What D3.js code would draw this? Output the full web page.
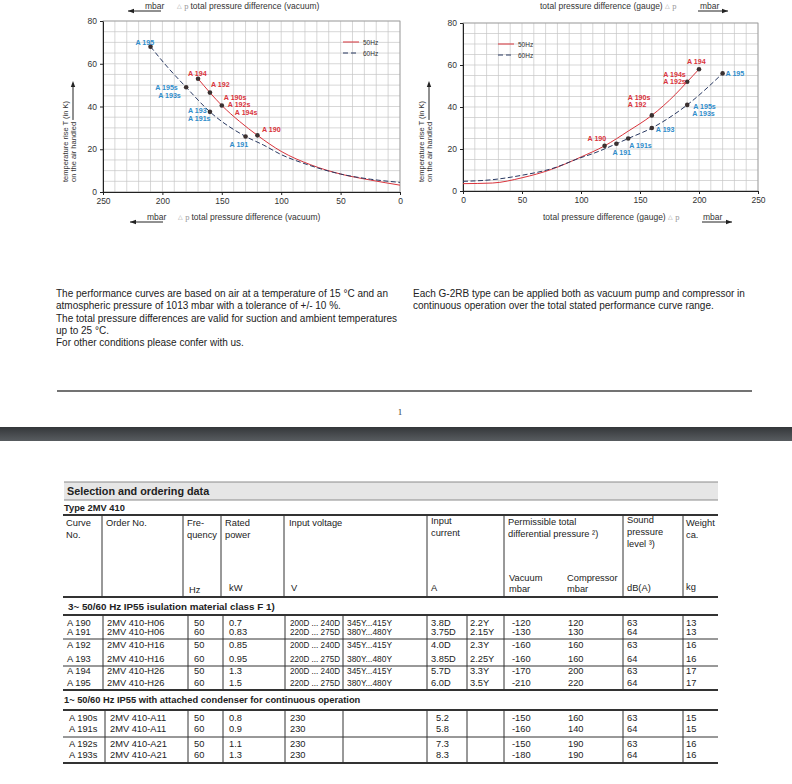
<!DOCTYPE html>
<html>
<head>
<meta charset="utf-8">
<script src="https://cdn.jsdelivr.net/npm/d3@7"></script>
<style>
  body { margin: 0; background: #fff; }
  svg { display: block; font-family: "Liberation Sans", Arial, sans-serif; }
</style>
</head>
<body>
<div id="page"></div>
<script>
// ---- chart data (pressure difference in mbar, temperature rise in K) ----
const vacuumCurve50 = [[170, 53], [160, 46.5], [150, 40.5], [135, 33], [120, 26.5], [100, 19], [75, 12.7], [50, 8.4], [25, 5.6], [0, 3.2]];
const vacuumCurve60 = [[210, 68], [195, 58], [180, 49], [160, 37.5], [130, 26], [115, 22], [100, 17.5], [80, 13.2], [50, 8.4], [25, 6], [0, 4.5]];
const gaugeCurve50 = [[0, 3.5], [25, 3.8], [50, 6.3], [75, 10.3], [100, 16.2], [120, 21.5], [140, 28.5], [160, 36], [180, 46], [190, 52], [200, 58]];
const gaugeCurve60 = [[0, 4.6], [25, 5.4], [50, 7.5], [75, 10.6], [100, 15.9], [110, 17.8], [130, 22.5], [140, 25], [160, 30], [190, 41], [220, 56]];

const vacuumPoints50 = [
  { p: 170, t: 53, labels: ["A 194"] },
  { p: 160, t: 46.5, labels: ["A 192"] },
  { p: 150, t: 40.5, labels: ["A 190s", "A 192s", "A 194s"] },
  { p: 120, t: 26.5, labels: ["A 190"] }
];
const vacuumPoints60 = [
  { p: 210, t: 68, labels: ["A 195"] },
  { p: 180, t: 49, labels: ["A 195s", "A 193s"] },
  { p: 160, t: 37.5, labels: ["A 193", "A 191s"] },
  { p: 130, t: 26, labels: ["A 191"] }
];
const gaugePoints50 = [
  { p: 200, t: 58, labels: ["A 194"] },
  { p: 190, t: 52, labels: ["A 194s", "A 192s"] },
  { p: 160, t: 36, labels: ["A 190s", "A 192"] },
  { p: 120, t: 21.5, labels: ["A 190"] }
];
const gaugePoints60 = [
  { p: 220, t: 56, labels: ["A 195"] },
  { p: 190, t: 41, labels: ["A 195s", "A 193s"] },
  { p: 160, t: 30, labels: ["A 193"] },
  { p: 140, t: 25, labels: ["A 191s"] },
  { p: 130, t: 22.5, labels: ["A 191"] }
];

const tempTicks = [0, 20, 40, 60, 80];
const pressureTicks = [0, 50, 100, 150, 200, 250];

// ---- texts ----
const notesLeft = [
  "The performance curves are based on air at a temperature of 15 °C and an",
  "atmospheric pressure of 1013 mbar with a tolerance of +/- 10 %.",
  "The total pressure differences are valid for suction and ambient temperatures",
  "up to 25 °C.",
  "For other conditions please confer with us."
];
const notesRight = [
  "Each G-2RB type can be applied both as vacuum pump and compressor in",
  "continuous operation over the total stated performance curve range."
];

// ---- table data ----
const headerCells = [
  ["Curve", "No."], ["Order No."], ["Fre-", "quency"], ["Rated", "power"], ["Input voltage"],
  ["Input", "current"], ["Permissible total", "differential pressure ²)"],
  ["Sound", "pressure", "level ³)"], ["Weight", "ca."]
];
const unitCells = ["Hz", "kW", "V", "A", ["Vacuum", "mbar"], ["Compressor", "mbar"], "dB(A)", "kg"];

const rows3phase = [
  ["A 190", "2MV 410-H06", "50", "0.7", "200D ... 240D", "345Y...415Y", "3.8D", "2.2Y", "-120", "120", "63", "13"],
  ["A 191", "2MV 410-H06", "60", "0.83", "220D ... 275D", "380Y...480Y", "3.75D", "2.15Y", "-130", "130", "64", "13"],
  ["A 192", "2MV 410-H16", "50", "0.85", "200D ... 240D", "345Y...415Y", "4.0D", "2.3Y", "-160", "160", "63", "16"],
  ["A 193", "2MV 410-H16", "60", "0.95", "220D ... 275D", "380Y...480Y", "3.85D", "2.25Y", "-160", "160", "64", "16"],
  ["A 194", "2MV 410-H26", "50", "1.3", "200D ... 240D", "345Y...415Y", "5.7D", "3.3Y", "-170", "200", "63", "17"],
  ["A 195", "2MV 410-H26", "60", "1.5", "220D ... 275D", "380Y...480Y", "6.0D", "3.5Y", "-210", "220", "64", "17"]
];
const rows1phase = [
  ["A 190s", "2MV 410-A11", "50", "0.8", "230", "", "5.2", "", "-150", "160", "63", "15"],
  ["A 191s", "2MV 410-A11", "60", "0.9", "230", "", "5.8", "", "-160", "140", "64", "15"],
  ["A 192s", "2MV 410-A21", "50", "1.1", "230", "", "7.3", "", "-150", "190", "63", "16"],
  ["A 193s", "2MV 410-A21", "60", "1.3", "230", "", "8.3", "", "-180", "190", "64", "16"]
];

document.addEventListener("DOMContentLoaded", () => {
  const w = 792;
  const h = 784;
  const red = "#d9343c";
  const blue = "#2f8dcb";
  const navy = "#283861";

  const svg = d3.select("#page").append("svg").attr("width", w).attr("height", h);

  const arrowHead = (g, x, y, dir) => {
    // small filled triangle, dir: "left" | "right" | "up"
    let pts;
    if (dir === "left") pts = [[x, y], [x + 6, y - 2.2], [x + 6, y + 2.2]];
    else if (dir === "right") pts = [[x, y], [x - 6, y - 2.2], [x - 6, y + 2.2]];
    else pts = [[x, y], [x - 2.2, y + 6], [x + 2.2, y + 6]];
    g.append("path").attr("d", d3.line()(pts) + "Z").attr("fill", "#222");
  };

  function drawChart(opt) {
    const x = d3.scaleLinear().domain(opt.xDomain).range(opt.xRange);
    const y = d3.scaleLinear().domain([0, 80]).range(opt.yRange);
    const g = svg.append("g");

    // grid
    g.append("g")
      .selectAll("line")
      .data(d3.range(0, 251, 10))
      .enter()
      .append("line")
      .attr("x1", (d) => x(d)).attr("x2", (d) => x(d))
      .attr("y1", y(0)).attr("y2", y(80))
      .attr("stroke", "#c6c6c6").attr("stroke-width", 0.7);
    g.append("g")
      .selectAll("line")
      .data(d3.range(0, 81, 5))
      .enter()
      .append("line")
      .attr("y1", (d) => y(d)).attr("y2", (d) => y(d))
      .attr("x1", opt.xRange[0]).attr("x2", opt.xRange[1])
      .attr("stroke", "#c6c6c6").attr("stroke-width", 0.7);
    g.append("rect")
      .attr("x", opt.xRange[0]).attr("y", y(80))
      .attr("width", opt.xRange[1] - opt.xRange[0]).attr("height", y(0) - y(80))
      .attr("fill", "none").attr("stroke", "#9a9a9a").attr("stroke-width", 0.8);

    // axes
    const yAxis = g.append("g")
      .attr("transform", `translate(${opt.xRange[0]},0)`)
      .call(d3.axisLeft(y).tickValues(tempTicks).tickSize(3).tickSizeOuter(0).tickPadding(3));
    const xAxis = g.append("g")
      .attr("transform", `translate(0,${y(0)})`)
      .call(d3.axisBottom(x).tickValues(pressureTicks).tickSize(3).tickSizeOuter(0).tickPadding(3));
    [yAxis, xAxis].forEach((a) => {
      a.selectAll("text").attr("font-size", 8.5).attr("fill", "#333").attr("font-family", "Liberation Sans, Arial, sans-serif");
      a.select(".domain").attr("stroke", "#222").attr("stroke-width", 1);
      a.selectAll(".tick line").attr("stroke", "#222");
    });

    // curves
    const line = d3.line()
      .x((d) => x(d[0]))
      .y((d) => y(d[1]))
      .curve(d3.curveMonotoneX);
    const sortPx = (arr) => arr.slice().sort((a, b) => x(a[0]) - x(b[0]));
    g.append("path").attr("d", line(sortPx(opt.curve50)))
      .attr("fill", "none").attr("stroke", red).attr("stroke-width", 1);
    g.append("path").attr("d", line(sortPx(opt.curve60)))
      .attr("fill", "none").attr("stroke", navy).attr("stroke-width", 1)
      .attr("stroke-dasharray", "5,2.5");

    // points + labels
    const drawPoints = (pts, colour, offsets) => {
      pts.forEach((d, i) => {
        const px = x(d.p), py = y(d.t);
        g.append("circle").attr("cx", px).attr("cy", py).attr("r", 2.3).attr("fill", "#3a3030");
        d.labels.forEach((lab, j) => {
          const off = offsets[i][j];
          g.append("text")
            .attr("x", px + off[0]).attr("y", py + off[1])
            .attr("dominant-baseline", "central")
            .attr("font-size", 7.1).attr("font-weight", "bold")
            .attr("fill", colour)
            .text(lab);
        });
      });
    };
    drawPoints(opt.points50, red, opt.off50);
    drawPoints(opt.points60, blue, opt.off60);

    // legend
    const lg = g.append("g").attr("transform", `translate(${opt.legend[0]},${opt.legend[1]})`);
    lg.append("line").attr("x1", 0).attr("x2", 16).attr("y1", 0).attr("y2", 0).attr("stroke", red);
    lg.append("line").attr("x1", 0).attr("x2", 16).attr("y1", 11).attr("y2", 11)
      .attr("stroke", navy).attr("stroke-dasharray", "5,3");
    lg.append("text").attr("x", 20).attr("y", 0).attr("dominant-baseline", "central")
      .attr("font-size", 6.5).attr("fill", "#333").text("50Hz");
    lg.append("text").attr("x", 20).attr("y", 11).attr("dominant-baseline", "central")
      .attr("font-size", 6.5).attr("fill", "#333").text("60Hz");

    // y label
    const yl = g.append("g");
    yl.append("text")
      .attr("transform", `translate(${opt.yLabelX},182) rotate(-90)`)
      .attr("dominant-baseline", "central")
      .attr("font-size", 7.5).attr("fill", "#333")
      .text("temperature rise T (in K)");
    const l2 = yl.append("text")
      .attr("transform", `translate(${opt.yLabelX + 8},182) rotate(-90)`)
      .attr("dominant-baseline", "central")
      .attr("font-size", 7.5).attr("fill", "#333")
      .text("on the air handled");
    const len = l2.node().getComputedTextLength();
    yl.append("line")
      .attr("x1", opt.yLabelX + 8).attr("x2", opt.yLabelX + 8)
      .attr("y1", 182 - len - 2).attr("y2", 86)
      .attr("stroke", "#222").attr("stroke-width", 1);
    arrowHead(yl, opt.yLabelX + 8, 81, "up");

    // x titles (top and bottom)
    opt.titles.forEach((t) => {
      const tg = g.append("g");
      tg.append("text").attr("x", t.mbarX).attr("y", t.y).attr("dominant-baseline", "central")
        .attr("font-size", 8.5).attr("fill", "#333").text("mbar");
      tg.append("line").attr("x1", t.arrow[0]).attr("x2", t.arrow[1])
        .attr("y1", t.y + 5).attr("y2", t.y + 5).attr("stroke", "#222").attr("stroke-width", 1);
      arrowHead(tg, t.dir === "left" ? t.arrow[0] : t.arrow[1], t.y + 5, t.dir);
      const tt = tg.append("text").attr("x", t.textX).attr("y", t.y).attr("dominant-baseline", "central")
        .attr("font-size", 8.5).attr("fill", "#333");
      if (t.deltaFirst) {
        tt.append("tspan").attr("font-size", 6).attr("fill", "#999").text("△");
        tt.append("tspan").attr("font-family", "Liberation Serif, serif").attr("fill", "#999").text(" p ");
        tt.append("tspan").text(" " + t.text);
      } else {
        tt.append("tspan").text(t.text + " ");
        tt.append("tspan").attr("font-size", 6).attr("fill", "#999").text("△");
        tt.append("tspan").attr("font-family", "Liberation Serif, serif").attr("fill", "#999").text(" p");
      }
    });
  }

  drawChart({
    xDomain: [250, 0], xRange: [103, 400], yRange: [192, 21],
    curve50: vacuumCurve50, curve60: vacuumCurve60,
    points50: vacuumPoints50, points60: vacuumPoints60,
    off50: [[[-10, -5]], [[1, -7.6]], [[2, -7.6], [6, -0.2], [13, 7.6]], [[4.6, -5.4]]],
    off60: [[[-15, -3.6]], [[-31, 1], [-28, 8.3]], [[-22, -0.5], [-22, 7]], [[-16, 8.6]]],
    legend: [343, 42], yLabelX: 65,
    titles: [
      { y: 6, mbarX: 145, arrow: [128, 161], dir: "left", textX: 177, text: "total pressure difference (vacuum)", deltaFirst: true },
      { y: 217, mbarX: 147, arrow: [130, 163], dir: "left", textX: 178, text: "total pressure difference (vacuum)", deltaFirst: true }
    ]
  });

  drawChart({
    xDomain: [0, 250], xRange: [463, 758], yRange: [191, 23],
    curve50: gaugeCurve50, curve60: gaugeCurve60,
    points50: gaugePoints50, points60: gaugePoints60,
    off50: [[[-12, -7]], [[-24, -7.3], [-24, 0.5]], [[-24, -17.5], [-24, -10.3]], [[-17, -7]]],
    off60: [[[3, 0.5]], [[6, 2], [5, 9.3]], [[4, 2]], [[1, 7.5]], [[-4, 9]]],
    legend: [498, 44], yLabelX: 421,
    titles: [
      { y: 6, mbarX: 700, arrow: [698, 728], dir: "right", textX: 540, text: "total pressure difference (gauge)", deltaFirst: false },
      { y: 217, mbarX: 703, arrow: [702, 732], dir: "right", textX: 543, text: "total pressure difference (gauge)", deltaFirst: false }
    ]
  });

  // notes
  svg.append("g").selectAll("text").data(notesLeft).enter().append("text")
    .attr("x", 56).attr("y", (d, i) => 297 + i * 12.3)
    .attr("font-size", 10).attr("fill", "#222").text((d) => d);
  svg.append("g").selectAll("text").data(notesRight).enter().append("text")
    .attr("x", 413).attr("y", (d, i) => 297 + i * 12.3)
    .attr("font-size", 10).attr("fill", "#222").text((d) => d);

  // footer rule, page number, dark page break band
  svg.append("line").attr("x1", 57).attr("x2", 752).attr("y1", 391).attr("y2", 391)
    .attr("stroke", "#444").attr("stroke-width", 1.3);
  svg.append("text").attr("x", 400).attr("y", 415).attr("text-anchor", "middle")
    .attr("font-family", "Liberation Serif, serif").attr("font-size", 9).attr("fill", "#333").text("1");
  const grad = svg.append("defs").append("linearGradient").attr("id", "band")
    .attr("x1", 0).attr("x2", 0).attr("y1", 0).attr("y2", 1);
  grad.append("stop").attr("offset", 0).attr("stop-color", "#34373a");
  grad.append("stop").attr("offset", 1).attr("stop-color", "#585c60");
  svg.append("rect").attr("x", 0).attr("y", 427).attr("width", w).attr("height", 14).attr("fill", "url(#band)");

  // ---- table ----
  const t = svg.append("g").attr("font-size", 9.3).attr("fill", "#222");
  const left = 63, right = 718;
  t.append("rect").attr("x", left + 1).attr("y", 482).attr("width", right - left - 1).attr("height", 18)
    .attr("fill", "#e6e6e6");
  [482, 500].forEach((yy) => t.append("line").attr("x1", left + 1).attr("x2", right).attr("y1", yy).attr("y2", yy)
    .attr("stroke", "#8a8a8a").attr("stroke-width", 1));
  t.append("text").attr("x", 67).attr("y", 495).attr("font-weight", "bold").attr("font-size", 10.8)
    .text("Selection and ordering data");
  t.append("text").attr("x", 64).attr("y", 511).attr("font-weight", "bold").attr("font-size", 9.3)
    .text("Type 2MV 410");

  const hline = (yy, sw) => t.append("line").attr("x1", left).attr("x2", right).attr("y1", yy).attr("y2", yy)
    .attr("stroke", "#333").attr("stroke-width", sw);
  const vlines = (xs, y1, y2) => xs.forEach((xx) => t.append("line").attr("x1", xx).attr("x2", xx)
    .attr("y1", y1).attr("y2", y2).attr("stroke", "#333").attr("stroke-width", 1));

  // header
  hline(515, 1.8);
  hline(597, 1.8);
  vlines([102, 183, 221, 284, 427, 504, 623, 683], 515, 597);
  const headX = [66, 106, 187, 225, 289, 431, 508, 627, 686];
  const headY = [526, 526, 526, 526, 526, 524, 525, 523, 526];
  headerCells.forEach((lines, i) => {
    lines.forEach((s, j) => {
      t.append("text").attr("x", headX[i]).attr("y", headY[i] + j * 12).text(s);
    });
  });
  const unitX = [189, 229, 291, 431, 509, 567, 627, 686];
  const unitY = [593, 591, 591, 591, 581, 581, 591, 590];
  unitCells.forEach((u, i) => {
    [].concat(u).forEach((s, j) => {
      t.append("text").attr("x", unitX[i]).attr("y", unitY[i] + j * 11).text(s);
    });
  });

  // group headings
  t.append("text").attr("x", 68).attr("y", 610).attr("font-weight", "bold").attr("font-size", 9.8)
    .text("3~ 50/60 Hz IP55 isulation material class F 1)");
  t.append("text").attr("x", 64).attr("y", 703).attr("font-weight", "bold").attr("font-size", 9.3)
    .text("1~ 50/60 Hz IP55 with attached condenser for continuous operation");

  const colX = [67, 107, 194, 229, 290, 347, 431, 470, 512, 568, 627, 686];
  const colXs = [69, 110, 194, 229, 290, 347, 436, 470, 512, 568, 627, 686];
  const dataLines = [103, 188, 223, 285, 343, 427, 467, 504, 623, 683];
  const cellText = (xx, yy, s, c) => {
    const el = t.append("text").attr("x", xx).attr("y", yy).attr("dominant-baseline", "central").text(s);
    // the two voltage columns are set tighter in the reference
    if ((c === 4 || c === 5) && s.length > 5) {
      el.attr("textLength", c === 4 ? 50 : 45).attr("lengthAdjust", "spacingAndGlyphs");
    }
  };

  hline(615, 1.8); hline(639, 1); hline(666, 1); hline(690, 1.8);
  vlines(dataLines, 615, 690);
  const rowY1 = [623, 632, 645, 659, 671, 683];
  rows3phase.forEach((row, r) => {
    row.forEach((s, c) => cellText(colX[c], rowY1[r], s, c));
  });

  hline(710, 1.8); hline(737, 1); hline(763, 1.8);
  vlines(dataLines.map((d, i) => (i === 0 ? 105 : d)), 710, 763);
  const rowY2 = [718, 729, 744, 755];
  rows1phase.forEach((row, r) => {
    row.forEach((s, c) => cellText(colXs[c], rowY2[r], s, c));
  });
});
</script>
</body>
</html>
